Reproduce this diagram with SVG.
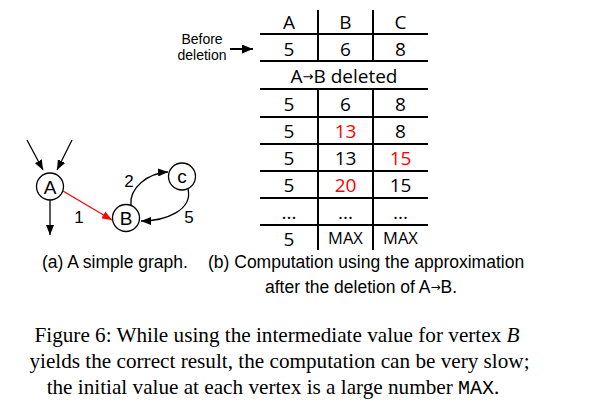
<svg xmlns="http://www.w3.org/2000/svg" width="601" height="418" viewBox="0 0 601 418">
<defs>
<style>
.tb{font-family:"Open Sans","Noto Sans",sans-serif;font-size:19px;fill:#000;text-anchor:middle}
.red{fill:#ff0000}
.mx{font-size:16.5px}
.ar{font-family:"Liberation Sans",Arial,sans-serif;fill:#000}
.nl{font-family:"Liberation Sans",Arial,sans-serif;font-size:19px;text-anchor:middle;fill:#000}
.el{font-family:"Liberation Sans",Arial,sans-serif;font-size:17px;text-anchor:middle;fill:#000}
.cap{font-family:"Liberation Serif","Times New Roman",serif;font-size:21.2px;fill:#000;text-anchor:middle}
.grid{stroke:#000;stroke-width:2;fill:none}
.edge{stroke:#000;stroke-width:1.3;fill:none}
.node{fill:#fff;stroke:#000;stroke-width:1.3}
</style>
<marker id="ah" viewBox="0 0 10 8" refX="10" refY="4" markerWidth="10" markerHeight="8" markerUnits="userSpaceOnUse" orient="auto"><path d="M0,0 L10,4 L0,8 Z" fill="#000"/></marker>
<marker id="ahr" viewBox="0 0 10 8" refX="10" refY="4" markerWidth="10" markerHeight="8" markerUnits="userSpaceOnUse" orient="auto"><path d="M0,0 L10,4 L0,8 Z" fill="#ff0000"/></marker>
<marker id="ahb" viewBox="0 0 10 8" refX="10" refY="4" markerWidth="11" markerHeight="9" markerUnits="userSpaceOnUse" orient="auto"><path d="M0,0 L10,4 L0,8 Z" fill="#000"/></marker>
</defs>

<g id="connectors">
<path class="edge" d="M27,140 L43,170" marker-end="url(#ah)"/>
<path class="edge" d="M72,140 L57,170" marker-end="url(#ah)"/>
<path class="edge" d="M50,200 L50,235" marker-end="url(#ah)"/>
<path d="M63,191 L112,220" stroke="#ff0000" stroke-width="1.3" fill="none" marker-end="url(#ahr)"/>
<path class="edge" d="M131,205 C129,188 148,173 168,172" marker-end="url(#ah)"/>
<path class="edge" d="M188,189 C193,210 166,221 141,221" marker-end="url(#ah)"/>
<text class="el" x="79" y="223">1</text>
<text class="el" x="129" y="187">2</text>
<text class="el" x="189" y="223">5</text>
</g>

<g id="node-A"><circle class="node" cx="50" cy="186.5" r="13.5"/><text class="nl" x="50" y="193.5">A</text></g>
<g id="node-B"><circle class="node" cx="126" cy="218" r="13.5"/><text class="nl" x="126" y="225">B</text></g>
<g id="node-C"><circle class="node" cx="182" cy="176.5" r="13.5"/><text class="nl" x="182" y="183">c</text></g>

<g id="table">
<path class="grid" d="M260,34H428 M260,61H428 M260,89H428 M260,117H428 M260,144H428 M260,171H428 M260,198H428 M260,225H428 M318,10V61 M373,10V61 M318,89V250 M373,89V250"/>
<text class="tb" x="289" y="29">A</text><text class="tb" x="345.5" y="29">B</text><text class="tb" x="400.5" y="29">C</text>
<text class="tb" x="289" y="56">5</text><text class="tb" x="345.5" y="56">6</text><text class="tb" x="400.5" y="56">8</text>
<text class="tb" x="344" y="83">A<tspan font-family="DejaVu Sans" font-size="13" dy="-2">→</tspan><tspan dy="2">B deleted</tspan></text>
<text class="tb" x="289" y="111">5</text><text class="tb" x="345.5" y="111">6</text><text class="tb" x="400.5" y="111">8</text>
<text class="tb" x="289" y="138">5</text><text class="tb red" x="345.5" y="138">13</text><text class="tb" x="400.5" y="138">8</text>
<text class="tb" x="289" y="165">5</text><text class="tb" x="345.5" y="165">13</text><text class="tb red" x="400.5" y="165">15</text>
<text class="tb" x="289" y="192">5</text><text class="tb red" x="345.5" y="192">20</text><text class="tb" x="400.5" y="192">15</text>
<text class="tb" x="289" y="219">...</text><text class="tb" x="345.5" y="219">...</text><text class="tb" x="400.5" y="219">...</text>
<text class="tb" x="289" y="246">5</text><text class="tb mx" x="345.5" y="244">MAX</text><text class="tb mx" x="400.5" y="244">MAX</text>
</g>

<g id="before-label">
<text class="ar" x="202" y="44" font-size="14" text-anchor="middle">Before</text>
<text class="ar" x="202" y="60" font-size="14" text-anchor="middle">deletion</text>
<path d="M230,49 L253,49" stroke="#000" stroke-width="2" fill="none" marker-end="url(#ahb)"/>
</g>

<g id="subcaptions">
<text class="ar" x="42" y="268" font-size="17.5">(a) A simple graph.</text>
<text class="ar" x="208" y="268" font-size="17.5">(b) Computation using the approximation</text>
<text class="ar" x="265" y="293" font-size="17.5">after the deletion of A<tspan font-family="DejaVu Sans" font-size="12" dy="-2">→</tspan><tspan dy="2">B.</tspan></text>
</g>

<g id="caption">
<text class="cap" x="277" y="341.5">Figure 6: While using the intermediate value for vertex <tspan font-style="italic">B</tspan></text>
<text class="cap" x="279.5" y="368">yields the correct result, the computation can be very slow;</text>
<text class="cap" x="273" y="394">the initial value at each vertex is a large number <tspan font-family="Liberation Mono,monospace" font-size="20">MAX</tspan>.</text>
</g>
</svg>
